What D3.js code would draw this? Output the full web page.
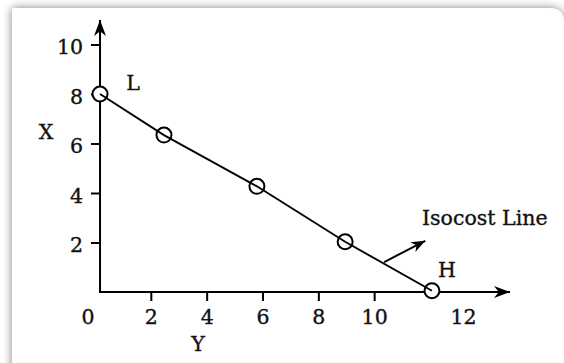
<!DOCTYPE html>
<html><head><meta charset="utf-8">
<script src="https://cdn.jsdelivr.net/npm/d3@7"></script>
<style>
html,body{margin:0;padding:0;background:#fff;}
svg{display:block;}
text{font-family:"DejaVu Serif",serif;fill:#111;stroke:#111;stroke-width:0.35px;}
</style></head>
<body>
<svg id="c" width="564" height="363"></svg>
<script>
// ---- data ----
const pointLabels = ["L", "", "", "", "H"];
const pointX = [0.18, 2.47, 5.8, 8.96, 12.07];
const pointY = [8.0, 6.34, 4.27, 2.03, 0.05];
const xTickValues = [2, 4, 6, 8, 10];
const yTickValues = [2, 4, 6, 8, 10];
const xExtraLabels = ["0", "12"];
const xExtraLabelPos = [-0.25, 13.2];
const arrowX = [10.36, 11.83];
const arrowY = [1.21, 2.07];
const arrowLabel = "Isocost Line";
const xTitle = "Y";
const yTitle = "X";

// ---- layout ----
const svg = d3.select("#c");
const x = d3.scaleLinear().domain([0, 12]).range([95, 430]);
const y = d3.scaleLinear().domain([0, 10]).range([292, 44.5]);
const originX = x(pointX[0]);
const originY = y(0);
const FS = 20.5;

const defs = svg.append("defs");
const f = defs.append("filter").attr("id","sh").attr("x","-10%").attr("y","-10%").attr("width","120%").attr("height","120%");
f.append("feGaussianBlur").attr("in","SourceAlpha").attr("stdDeviation",5).attr("result","b");
f.append("feComponentTransfer").attr("in","b").attr("result","b2")
  .append("feFuncA").attr("type","linear").attr("slope",0.5);
const m = f.append("feMerge");
m.append("feMergeNode").attr("in","b2");
m.append("feMergeNode").attr("in","SourceGraphic");

function marker(id, len, w){
  defs.append("marker").attr("id", id)
    .attr("markerUnits","userSpaceOnUse")
    .attr("viewBox", `${-len-1} ${-w/2-1} ${len+2} ${w+2}`)
    .attr("refX", 0).attr("refY", 0)
    .attr("markerWidth", len+2).attr("markerHeight", w+2)
    .attr("orient","auto")
    .append("path")
    .attr("d", `M0,0 L${-len},${-w/2} L${-len*0.7},0 L${-len},${w/2} Z`)
    .attr("fill","#000");
}
marker("ah", 16, 12);
marker("ah2", 14, 11);

// card
svg.append("path")
  .attr("d", "M12,8 H549 Q564,8 564,23 V380 H12 Z")
  .attr("fill","#fff")
  .attr("filter","url(#sh)");

// axes
const yAxis = d3.axisLeft(y).tickValues(yTickValues).tickSize(9).tickPadding(8);
const gy = svg.append("g").attr("transform", `translate(${originX},0)`).call(yAxis);
gy.select(".domain").remove();
gy.selectAll(".tick line").attr("stroke","#000").attr("stroke-width",2);
gy.selectAll(".tick text").attr("font-size",FS).attr("dy","0.45em")
  .style("font-family","DejaVu Serif").attr("fill","#111");

const xAxis = d3.axisBottom(x).tickValues(xTickValues).tickSize(9).tickPadding(8);
const gx = svg.append("g").attr("transform", `translate(0,${originY})`).call(xAxis);
gx.select(".domain").remove();
gx.selectAll(".tick line").attr("stroke","#000").attr("stroke-width",2);
gx.selectAll(".tick text").attr("font-size",FS)
  .style("font-family","DejaVu Serif").attr("fill","#111");

svg.selectAll("text.xextra").data(xExtraLabels).join("text")
  .attr("class","xextra")
  .attr("x", (d,i) => x(xExtraLabelPos[i]))
  .attr("y", originY + 31.5)
  .attr("text-anchor","middle").attr("font-size",FS).text(d => d);

// axis lines with arrows
svg.append("line").attr("x1", originX).attr("y1", originY+1).attr("x2", originX).attr("y2", 20)
  .attr("stroke","#000").attr("stroke-width",2).attr("marker-end","url(#ah)");
svg.append("line").attr("x1", originX-1).attr("y1", originY).attr("x2", 510).attr("y2", originY)
  .attr("stroke","#000").attr("stroke-width",2).attr("marker-end","url(#ah)");

// titles
svg.append("text").attr("x", 46).attr("y", 139).attr("text-anchor","middle").attr("font-size",FS).text(yTitle);
svg.append("text").attr("x", 198).attr("y", 351).attr("text-anchor","middle").attr("font-size",FS).text(xTitle);

// points
const pts = pointX.map((v,i) => ({x:v, y:pointY[i], label:pointLabels[i]}));
svg.selectAll("circle.pt").data(pts).join("circle")
  .attr("class","pt")
  .attr("cx", d => x(d.x)).attr("cy", d => y(d.y)).attr("r", 7.5)
  .attr("fill","#fff").attr("stroke","#000").attr("stroke-width",2);

svg.append("path").datum(pts)
  .attr("d", d3.line().x(d => x(d.x)).y(d => y(d.y)))
  .attr("fill","none").attr("stroke","#000").attr("stroke-width",1.9);

svg.selectAll("text.pl").data(pts.filter(d => d.label)).join("text")
  .attr("class","pl")
  .attr("x", d => x(d.x) + (d.label === "L" ? 33 : 15))
  .attr("y", d => y(d.y) + (d.label === "L" ? -4 : -14))
  .attr("text-anchor","middle").attr("font-size",FS).text(d => d.label);

// isocost arrow
svg.append("line")
  .attr("x1", x(arrowX[0])).attr("y1", y(arrowY[0]))
  .attr("x2", x(arrowX[1])).attr("y2", y(arrowY[1]))
  .attr("stroke","#000").attr("stroke-width",2).attr("marker-end","url(#ah2)");
svg.append("text").attr("x", 422).attr("y", 225).attr("font-size",FS).text(arrowLabel);
</script>
</body></html>
